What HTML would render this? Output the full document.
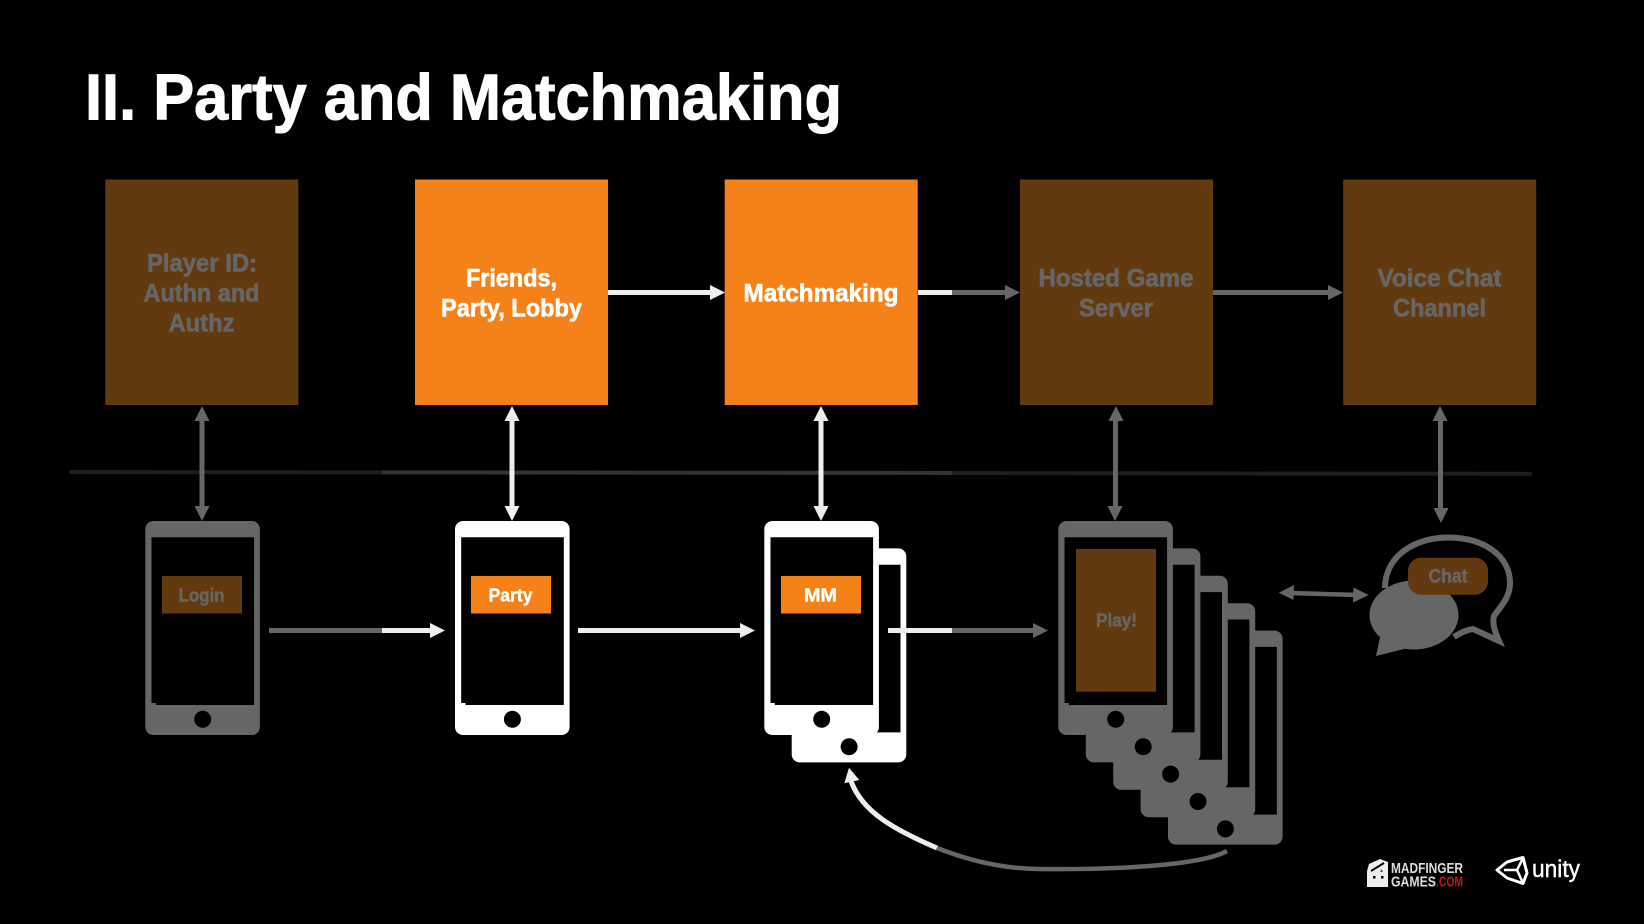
<!DOCTYPE html>
<html><head><meta charset="utf-8"><title>II. Party and Matchmaking</title>
<style>
html,body{margin:0;padding:0;background:#000;width:1644px;height:924px;overflow:hidden}
svg{display:block}
text{font-family:"Liberation Sans",sans-serif;font-weight:700}
</style></head><body>
<svg width="1644" height="924" viewBox="0 0 1644 924" xmlns="http://www.w3.org/2000/svg">
<defs>
<g id="ph">
<rect x="0" y="0" width="114.6" height="214" rx="8" fill="currentColor"/>
<path d="M6.2 16.3H108.8V184H10.5V182H6.2Z" fill="#000"/>
<circle cx="57.4" cy="198.3" r="8.5" fill="#000"/>
</g>
</defs>
<rect width="1644" height="924" fill="#000"/>
<text x="85" y="119.5" font-size="65" fill="#fff" stroke="#fff" stroke-width="1" textLength="757" lengthAdjust="spacingAndGlyphs">II. Party and Matchmaking</text>

<!-- top boxes -->
<rect x="105.3" y="179.5" width="193" height="225.5" fill="#633a10"/>
<rect x="415" y="179.5" width="193" height="225.5" fill="#f58219"/>
<rect x="724.7" y="179.5" width="193" height="225.5" fill="#f58219"/>
<rect x="1020" y="179.5" width="193" height="225.5" fill="#633a10"/>
<rect x="1343.2" y="179.5" width="193" height="225.5" fill="#633a10"/>

<g font-size="25" text-anchor="middle" stroke-width=".6">
<g fill="#666" stroke="#666">
<text x="202" y="271.5" textLength="110" lengthAdjust="spacingAndGlyphs">Player ID:</text>
<text x="201.5" y="301.5" textLength="116" lengthAdjust="spacingAndGlyphs">Authn and</text>
<text x="201.5" y="331.5" textLength="66" lengthAdjust="spacingAndGlyphs">Authz</text>
<text x="1116" y="286.5" textLength="155" lengthAdjust="spacingAndGlyphs">Hosted Game</text>
<text x="1116" y="316.5" textLength="74" lengthAdjust="spacingAndGlyphs">Server</text>
<text x="1439.5" y="286.5" textLength="124" lengthAdjust="spacingAndGlyphs">Voice Chat</text>
<text x="1439.5" y="316.5" textLength="93" lengthAdjust="spacingAndGlyphs">Channel</text>
</g>
<g fill="#fff" stroke="#fff">
<text x="511.5" y="286.5" textLength="91" lengthAdjust="spacingAndGlyphs">Friends,</text>
<text x="511.5" y="316.5" textLength="141" lengthAdjust="spacingAndGlyphs">Party, Lobby</text>
<text x="821" y="301.5" textLength="155" lengthAdjust="spacingAndGlyphs">Matchmaking</text>
</g>
</g>

<!-- divider -->
<path d="M69 472L382 472.4" stroke="#1e1e1e" stroke-width="4" fill="none"/>
<path d="M382 472.4L952 473" stroke="#333" stroke-width="4" fill="none"/>
<path d="M952 473L1532 473.8" stroke="#1e1e1e" stroke-width="4" fill="none"/>

<!-- top horizontal arrows -->
<rect x="608" y="290" width="103" height="5" fill="#eee"/><polygon points="725,292.5 710,285 710,300" fill="#eee"/>
<rect x="918" y="290" width="34" height="5" fill="#eee"/><rect x="952" y="290" width="54" height="5" fill="#666"/><polygon points="1020,292.5 1005,285 1005,300" fill="#666"/>
<rect x="1213" y="290" width="117" height="5" fill="#666"/><polygon points="1343,292.5 1328,285 1328,300" fill="#666"/>

<!-- vertical double arrows -->
<g fill="#666">
<rect x="199.5" y="420" width="5" height="88"/><polygon points="202,406 194.5,421 209.5,421"/><polygon points="202,521 194.5,506 209.5,506"/>
<rect x="1113" y="420" width="5" height="88"/><polygon points="1116,406 1108.5,421 1123.5,421"/><polygon points="1115,521 1107.5,506 1122.5,506"/>
<rect x="1438" y="420" width="5" height="90"/><polygon points="1440,406 1432.5,421 1447.5,421"/><polygon points="1441,523 1433.5,508 1448.5,508"/>
</g>
<g fill="#eee">
<rect x="509.5" y="420" width="5" height="88"/><polygon points="512,406 504.5,421 519.5,421"/><polygon points="512,521 504.5,506 519.5,506"/>
<rect x="818.5" y="420" width="5" height="88"/><polygon points="821,406 813.5,421 828.5,421"/><polygon points="821,521 813.5,506 828.5,506"/>
</g>

<!-- phones -->
<use href="#ph" x="145.3" y="521" color="#666"/>
<use href="#ph" x="455" y="521" color="#fff"/>
<use href="#ph" x="791.7" y="548.4" color="#fff"/>
<use href="#ph" x="764.3" y="521" color="#fff"/>
<use href="#ph" x="1168" y="630.6" color="#666"/>
<use href="#ph" x="1140.6" y="603.2" color="#666"/>
<use href="#ph" x="1113.2" y="575.8" color="#666"/>
<use href="#ph" x="1085.8" y="548.4" color="#666"/>
<use href="#ph" x="1058.3" y="521" color="#666"/>

<!-- phone labels -->
<rect x="162" y="576" width="80" height="37.5" fill="#633a10"/>
<rect x="471" y="576" width="80" height="37.5" fill="#f58219"/>
<rect x="781" y="576" width="80" height="37.5" fill="#f58219"/>
<rect x="1076" y="549" width="80" height="142.7" fill="#633a10"/>
<g font-size="18" text-anchor="middle" stroke-width=".4">
<text x="201.5" y="601.5" fill="#666" stroke="#666" textLength="46" lengthAdjust="spacingAndGlyphs">Login</text>
<text x="510.5" y="601.5" fill="#fff" stroke="#fff" textLength="44" lengthAdjust="spacingAndGlyphs">Party</text>
<text x="820.5" y="601.5" fill="#fff" stroke="#fff" textLength="33" lengthAdjust="spacingAndGlyphs">MM</text>
<text x="1116.5" y="626.5" fill="#666" stroke="#666" textLength="41" lengthAdjust="spacingAndGlyphs">Play!</text>
</g>

<!-- lower horizontal arrows -->
<rect x="269" y="628" width="113" height="5" fill="#666"/><rect x="382" y="628" width="49" height="5" fill="#eee"/><polygon points="445,630.5 430,623 430,638" fill="#eee"/>
<rect x="578" y="628" width="164" height="5" fill="#eee"/><polygon points="755,630.5 740,623 740,638" fill="#eee"/>
<rect x="888" y="628" width="64" height="5" fill="#eee"/><rect x="952" y="628" width="82" height="5" fill="#666"/><polygon points="1048,630.5 1033,623 1033,638" fill="#666"/>

<!-- curved return arrow -->
<path d="M851 781C862 812 895 830 937 848" fill="none" stroke="#eee" stroke-width="5"/>
<path d="M937 848C965 859 1000 869 1040 869C1110 870 1200 866 1227 851" fill="none" stroke="#666" stroke-width="4.5"/>
<polygon points="849,767.7 844.3,783.3 859.3,780" fill="#eee"/>

<!-- chat double arrow -->
<path d="M1290 593L1358 595" stroke="#666" stroke-width="4.5" fill="none"/>
<polygon points="1278.7,592.7 1294,585 1293.5,600" fill="#666"/>
<polygon points="1368.7,595 1353.5,587.5 1353,602.5" fill="#666"/>

<!-- chat icon -->
<path d="M1385 588C1385 556 1415 537.5 1448 537.5C1484 537.5 1510 556 1510 583C1510 598 1500 607 1494 616C1492 624 1495 632 1499 641L1473 629C1466 630 1460 633 1454 637" fill="#000" stroke="#666" stroke-width="6"/>
<ellipse cx="1414" cy="615" rx="44.5" ry="34.5" fill="#666"/>
<polygon points="1376,656 1382,628 1408,648" fill="#666"/>
<rect x="1408" y="557.7" width="80" height="37" rx="13" fill="#633a10"/>
<text x="1448" y="582.5" font-size="19" fill="#666" stroke="#666" stroke-width=".4" text-anchor="middle" textLength="39" lengthAdjust="spacingAndGlyphs">Chat</text>

<!-- logos -->
<path d="M1367 871L1369 864L1380 859L1388 862V887H1367Z" fill="#eee"/>
<path d="M1371 871L1384 863" stroke="#000" stroke-width="2"/>
<path d="M1380 872l1.5-3 1.5 3z" fill="#d22"/>
<rect x="1373" y="876" width="2.5" height="2.5" fill="#000"/><rect x="1381" y="876" width="2.5" height="2.5" fill="#000"/>
<text x="1391" y="873" font-size="15" fill="#ddd" textLength="72" lengthAdjust="spacingAndGlyphs">MADFINGER</text>
<text x="1391" y="886.5" font-size="15" fill="#ddd" textLength="45" lengthAdjust="spacingAndGlyphs">GAMES</text>
<text x="1436" y="886.5" font-size="15" fill="#c8101a" textLength="27" lengthAdjust="spacingAndGlyphs">.COM</text>
<path d="M1497 870L1507 862L1523 857.5L1527 873L1523 883.5L1507 878Z" fill="none" stroke="#fff" stroke-width="3" stroke-linejoin="round"/>
<path d="M1504 870H1517L1523 858M1517 870L1523 883" fill="none" stroke="#fff" stroke-width="2.5"/>
<text x="1532" y="877" font-size="24" fill="#fff" stroke="#fff" stroke-width=".4" textLength="48" lengthAdjust="spacingAndGlyphs" style="font-weight:400">unity</text>
</svg>
</body></html>
